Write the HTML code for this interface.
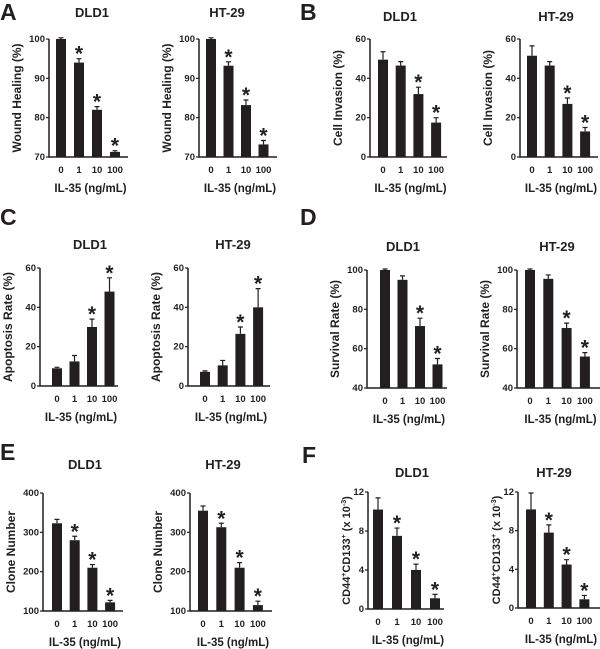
<!DOCTYPE html>
<html><head><meta charset="utf-8">
<style>
html,body{margin:0;padding:0;background:#fff;}
svg{display:block;font-family:"Liberation Sans",Arial,sans-serif;font-weight:bold;}
</style></head>
<body>
<svg id="fig" width="600" height="649" viewBox="0 0 600 649" xmlns="http://www.w3.org/2000/svg"></svg>
<script>
const categories = ['0','1','10','100'];
const woundDLD1 = [100, 94, 82, 71.3];
const woundDLD1Err = [0.3, 1, 0.8, 0.3];
const woundHT29 = [100, 93.2, 83.2, 73.2];
const woundHT29Err = [0.3, 1, 1.3, 1];
const invasionDLD1 = [49.5, 46.5, 32, 17.5];
const invasionDLD1Err = [4, 2, 3.5, 2.5];
const invasionHT29 = [51.5, 46.5, 27, 13];
const invasionHT29Err = [5, 2, 3, 2];
const apoptosisDLD1 = [9, 12.5, 30, 48];
const apoptosisDLD1Err = [0.5, 3, 4, 7];
const apoptosisHT29 = [7.2, 10.5, 26.5, 40];
const apoptosisHT29Err = [0.5, 2.5, 3.5, 9.5];
const survivalDLD1 = [100, 95, 71.5, 52];
const survivalDLD1Err = [0.5, 2, 4, 3];
const survivalHT29 = [100, 95.5, 70.5, 56];
const survivalHT29Err = [0.5, 2, 2.5, 2];
const cloneDLD1 = [323, 280, 210, 122];
const cloneDLD1Err = [10, 10, 8, 5];
const cloneHT29 = [355, 313, 210, 115];
const cloneHT29Err = [12, 10, 13, 10];
const stemDLD1 = [10.2, 7.5, 4.0, 1.1];
const stemDLD1Err = [1.2, 0.8, 0.6, 0.4];
const stemHT29 = [10.2, 7.8, 4.5, 0.9];
const stemHT29Err = [1.7, 0.8, 0.5, 0.4];
const sigWound = [false, true, true, true];
const sigInvasion = [false, false, true, true];
const sigApoptosis = [false, false, true, true];
const sigSurvival = [false, false, true, true];
const sigClone = [false, true, true, true];
const sigStem = [false, true, true, true];
const ticksWound = [70, 80, 90, 100];
const ticksPercent = [0, 20, 40, 60];
const ticksSurvival = [40, 60, 80, 100];
const ticksClone = [100, 200, 300, 400];
const ticksStem = [0, 4, 8, 12];

const NS = 'http://www.w3.org/2000/svg';
const svg = document.getElementById('fig');
function mk(tag, attrs, parent, text){
  const e = document.createElementNS(NS, tag);
  for (const k in attrs) e.setAttribute(k, attrs[k]);
  if (text !== undefined) e.textContent = text;
  (parent || svg).appendChild(e);
  return e;
}

const panels = [
 {id:'wound-dld1', vals:woundDLD1, err:woundDLD1Err, sig:sigWound, ticks:ticksWound, title:'DLD1', yt:'Wound Healing (%)', ax:49, top:39, bot:157, right:128, x0:61, dx:18, tx:92, ty:17},
 {id:'wound-ht29', vals:woundHT29, err:woundHT29Err, sig:sigWound, ticks:ticksWound, title:'HT-29', yt:'Wound Healing (%)', ax:199, top:39, bot:157, right:277, x0:211, dx:17.5, tx:227, ty:17},
 {id:'invasion-dld1', vals:invasionDLD1, err:invasionDLD1Err, sig:sigInvasion, ticks:ticksPercent, title:'DLD1', yt:'Cell Invasion (%)', ax:370, top:39, bot:157, right:447, x0:383, dx:17.7, tx:400, ty:21},
 {id:'invasion-ht29', vals:invasionHT29, err:invasionHT29Err, sig:sigInvasion, ticks:ticksPercent, title:'HT-29', yt:'Cell Invasion (%)', ax:520, top:39, bot:157, right:598, x0:532, dx:17.7, tx:556, ty:21},
 {id:'apoptosis-dld1', vals:apoptosisDLD1, err:apoptosisDLD1Err, sig:sigApoptosis, ticks:ticksPercent, title:'DLD1', yt:'Apoptosis Rate (%)', ax:40, top:268, bot:386, right:118, x0:57, dx:17.5, tx:90, ty:249},
 {id:'apoptosis-ht29', vals:apoptosisHT29, err:apoptosisHT29Err, sig:sigApoptosis, ticks:ticksPercent, title:'HT-29', yt:'Apoptosis Rate (%)', ax:188, top:268, bot:386, right:270, x0:205, dx:17.7, tx:233, ty:249},
 {id:'survival-dld1', vals:survivalDLD1, err:survivalDLD1Err, sig:sigSurvival, ticks:ticksSurvival, title:'DLD1', yt:'Survival Rate (%)', ax:367, top:270, bot:388, right:447, x0:385, dx:17.5, tx:403, ty:251},
 {id:'survival-ht29', vals:survivalHT29, err:survivalHT29Err, sig:sigSurvival, ticks:ticksSurvival, title:'HT-29', yt:'Survival Rate (%)', ax:517, top:270, bot:388, right:600, x0:530, dx:18.3, tx:557, ty:251},
 {id:'clone-dld1', vals:cloneDLD1, err:cloneDLD1Err, sig:sigClone, ticks:ticksClone, title:'DLD1', yt:'Clone Number', ax:43, top:493, bot:611, right:123, x0:57, dx:17.7, tx:85, ty:469},
 {id:'clone-ht29', vals:cloneHT29, err:cloneHT29Err, sig:sigClone, ticks:ticksClone, title:'HT-29', yt:'Clone Number', ax:190, top:493, bot:611, right:272, x0:203, dx:18.3, tx:223, ty:469},
 {id:'stem-dld1', vals:stemDLD1, err:stemDLD1Err, sig:sigStem, ticks:ticksStem, title:'DLD1', yt:'stem', ax:368, top:492, bot:609, right:444, x0:378, dx:19, tx:412, ty:477},
 {id:'stem-ht29', vals:stemHT29, err:stemHT29Err, sig:sigStem, ticks:ticksStem, title:'HT-29', yt:'stem', ax:518, top:492, bot:608, right:600, x0:531, dx:17.8, tx:554, ty:477}
];

const letters = [['A',0,20],['B',300,20],['C',0,225],['D',300,225],['E',0,460],['F',302,463]];
letters.forEach(l=>{
  const t = mk('text',{x:l[1],y:l[2],'font-size':23,fill:'#231f20'},svg,l[0]);
  
  
});

panels.forEach(p=>{
  const g = mk('g',{});
  
  
  const ymin = p.ticks[0], ymax = p.ticks[p.ticks.length-1];
  const Y = v => p.bot - (v - ymin)/(ymax - ymin)*(p.bot - p.top);
  const X = i => p.x0 + i*p.dx;
  const tt = mk('text',{x:p.tx,y:p.ty,'text-anchor':'middle','font-size':13,fill:'#231f20'},g,p.title);
  
  
  p.vals.forEach((v,i)=>{
    const r = mk('rect',{x:X(i)-5,y:Y(v),width:10,height:p.bot-Y(v),fill:'#231f20'},g);
    
    
    const ye = Y(v + p.err[i]);
    const e = mk('path',{d:`M${X(i)} ${Y(v)} V${ye} M${X(i)-2.5} ${ye} H${X(i)+2.5}`,stroke:'#231f20','stroke-width':1.2,fill:'none'},g);
    
    
    if (p.sig[i]) {
      const s = mk('text',{x:X(i),y:ye+2,'text-anchor':'middle','font-size':21,fill:'#231f20'},g,'*');
      
      
    }
    const tl = mk('text',{x:X(i),y:p.bot+16,'text-anchor':'middle','font-size':9.5,fill:'#231f20'},g,categories[i]);
    
    
  });
  const axes = mk('path',{d:`M${p.ax} ${p.top} V${p.bot} H${p.right}`,stroke:'#231f20','stroke-width':1.5,fill:'none'},g);
  
  
  p.ticks.forEach(t=>{
    mk('line',{x1:p.ax-3,x2:p.ax,y1:Y(t),y2:Y(t),stroke:'#231f20','stroke-width':1.2},g);
    const yl = mk('text',{x:p.ax-4,y:Y(t)+3,'text-anchor':'end','font-size':9.5,fill:'#231f20'},g,String(t));
    
    
  });
  const xt = mk('text',{x:(p.ax+p.right)/2+2,y:p.bot+35,'text-anchor':'middle','font-size':11.5,fill:'#231f20'},g,'IL-35 (ng/mL)');
  
  
  const cx = p.yt==='stem' ? p.ax-18 : p.ax-28;
  const cy = (p.top+p.bot)/2;
  const yt = mk('text',{x:cx,y:cy,'text-anchor':'middle','font-size':12,fill:'#231f20',transform:`rotate(-90 ${cx} ${cy})`},g);
  
  
  if (p.yt==='stem') {
    yt.setAttribute('font-size','11');
    mk('tspan',{},yt,'CD44');
    mk('tspan',{dy:-4,'font-size':7},yt,'+');
    mk('tspan',{dy:4},yt,'CD133');
    mk('tspan',{dy:-4,'font-size':7},yt,'+');
    mk('tspan',{dy:4},yt,' (x 10');
    mk('tspan',{dy:-4,'font-size':7},yt,'-3');
    mk('tspan',{dy:4},yt,')');
  } else {
    yt.textContent = p.yt;
  }
});
</script>
</body></html>
